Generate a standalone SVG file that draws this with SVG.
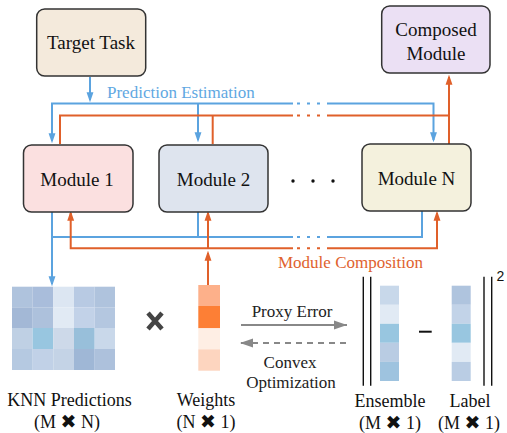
<svg xmlns="http://www.w3.org/2000/svg" width="507" height="433" viewBox="0 0 507 433">
<defs>
<style>
.box{stroke:#333;stroke-width:1.5}
.t{font-family:"Liberation Serif","Times New Roman",serif;font-size:18px;fill:#111;text-anchor:middle}
.tb{font-size:19px}
.s{font-family:"Liberation Serif","Times New Roman",serif;font-size:17px}
.x{font-family:"DejaVu Sans",sans-serif;font-size:19px}
.bl{stroke:#5BA3DF;stroke-width:2;fill:none}
.or{stroke:#E0602A;stroke-width:2;fill:none}
.bd{stroke:#5BA3DF;stroke-width:2;stroke-dasharray:3 7;fill:none}
.od{stroke:#E0602A;stroke-width:2;stroke-dasharray:3 7;fill:none}
.gr{stroke:#888;stroke-width:2;fill:none}
.bar{stroke:#111;stroke-width:1.4}
</style>
<marker id="ab" markerUnits="userSpaceOnUse" markerWidth="10" markerHeight="13" refX="10" refY="4.5" orient="auto" viewBox="0 0 13 9"><path d="M0,0 L13,4.5 L0,9 z" fill="#5BA3DF"/></marker>
<marker id="ao" markerUnits="userSpaceOnUse" markerWidth="10" markerHeight="13" refX="10" refY="4.5" orient="auto" viewBox="0 0 13 9"><path d="M0,0 L13,4.5 L0,9 z" fill="#E0602A"/></marker>
<marker id="ag" markerUnits="userSpaceOnUse" markerWidth="13" markerHeight="10" refX="13" refY="4.5" orient="auto" viewBox="0 0 13 9"><path d="M0,0 L13,4.5 L0,9 z" fill="#888"/></marker>
</defs>

<g id="connectors">
<path class="bl" d="M90,77 V100" marker-end="url(#ab)"/>
<path class="bl" d="M52,140 V103.5 H293"/>
<path class="bd" d="M297,103.5 H320"/>
<path class="bl" d="M327,103.5 H433.5 V140" marker-end="url(#ab)"/>
<path class="bl" d="M198,103.5 V140" marker-end="url(#ab)"/>
<path class="bl" d="M52,140 V141" marker-end="url(#ab)"/>
<path class="or" d="M60,144 V115.5 H293"/>
<path class="od" d="M297,115.5 H320"/>
<path class="or" d="M327,115.5 H449"/>
<path class="or" d="M212.7,115.5 V144"/>
<path class="or" d="M449,144 V77" marker-end="url(#ao)"/>

<path class="bl" d="M52,212 V284" marker-end="url(#ab)"/>
<path class="bl" d="M52,237 H293"/>
<path class="bd" d="M297,237 H320"/>
<path class="bl" d="M327,237 H422 V211"/>
<path class="bl" d="M198,212 V237"/>
<path class="or" d="M208,248.3 H70.7 V213" marker-end="url(#ao)"/>
<path class="or" d="M208,248.3 V213" marker-end="url(#ao)"/>
<path class="or" d="M208,248.3 H293"/>
<path class="od" d="M297,248.3 H320"/>
<path class="or" d="M327,248.3 H437 V213" marker-end="url(#ao)"/>
<path class="or" d="M208,285 V253" marker-end="url(#ao)"/>

<path class="gr" d="M241,325 H347" marker-end="url(#ag)"/>
<path class="gr" d="M346,343 H240" stroke-dasharray="6 5" marker-end="url(#ag)"/>
</g>

<text class="s" x="107" y="97.5" fill="#5FA8E2">Prediction Estimation</text>
<text class="s" x="278" y="268" fill="#E0622E">Module Composition</text>
<text class="s" x="292" y="316.5" text-anchor="middle" fill="#222">Proxy Error</text>
<text class="s" x="290" y="368" text-anchor="middle" fill="#222">Convex</text>
<text class="s" x="291" y="388" text-anchor="middle" fill="#222">Optimization</text>

<g id="target-task">
<rect class="box" x="36.7" y="9" width="109" height="67" rx="8" fill="#F4EADC"/>
<text class="t tb" x="91" y="49">Target Task</text>
</g>
<g id="composed-module">
<rect class="box" x="381.7" y="6" width="108.3" height="67" rx="8" fill="#EBE0F4"/>
<text class="t tb" x="436" y="35.5">Composed</text>
<text class="t tb" x="436" y="59.5">Module</text>
</g>
<g id="module-1">
<rect class="box" x="23.5" y="145" width="109.5" height="67" rx="8" fill="#FBE0E0"/>
<text class="t tb" x="77" y="185.5">Module 1</text>
</g>
<g id="module-2">
<rect class="box" x="159" y="145" width="109" height="67" rx="8" fill="#DEE4EE"/>
<text class="t tb" x="213.5" y="185.5">Module 2</text>
</g>
<g id="module-n">
<rect class="box" x="362" y="144" width="109" height="67" rx="8" fill="#F4F1DD"/>
<text class="t tb" x="416.5" y="184.5">Module N</text>
</g>
<g id="ellipsis" fill="#111">
<circle cx="293" cy="181" r="1.7"/>
<circle cx="313" cy="181" r="1.7"/>
<circle cx="333" cy="181" r="1.7"/>
</g>

<g id="knn-predictions">
<rect x="12" y="286.7" width="20.7" height="20.6" fill="#AFC3DD"/>
<rect x="32.7" y="286.7" width="20.6" height="20.6" fill="#A9BDDB"/>
<rect x="53.3" y="286.7" width="20.7" height="20.6" fill="#DCE6F2"/>
<rect x="74" y="286.7" width="20.7" height="20.6" fill="#B8CAE3"/>
<rect x="94.7" y="286.7" width="20.3" height="20.6" fill="#AFC3DD"/>
<rect x="12" y="307.3" width="20.7" height="20.7" fill="#A3B8D6"/>
<rect x="32.7" y="307.3" width="20.6" height="20.7" fill="#ADC1DC"/>
<rect x="53.3" y="307.3" width="20.7" height="20.7" fill="#E1EAF4"/>
<rect x="74" y="307.3" width="20.7" height="20.7" fill="#C2D2E8"/>
<rect x="94.7" y="307.3" width="20.3" height="20.7" fill="#B4C7E0"/>
<rect x="12" y="328" width="20.7" height="21" fill="#BFD0E4"/>
<rect x="32.7" y="328" width="20.6" height="21" fill="#98C6E0"/>
<rect x="53.3" y="328" width="20.7" height="21" fill="#CDD9E9"/>
<rect x="74" y="328" width="20.7" height="21" fill="#98BFDA"/>
<rect x="94.7" y="328" width="20.3" height="21" fill="#C9D8EA"/>
<rect x="12" y="349" width="20.7" height="21" fill="#B5C9E1"/>
<rect x="32.7" y="349" width="20.6" height="21" fill="#C1D1E7"/>
<rect x="53.3" y="349" width="20.7" height="21" fill="#C4D3E6"/>
<rect x="74" y="349" width="20.7" height="21" fill="#9FB7D6"/>
<rect x="94.7" y="349" width="20.3" height="21" fill="#ADC1DC"/>
<text class="t" x="69.5" y="406">KNN Predictions</text>
<text class="t" x="67" y="428">(M <tspan class="x">✖</tspan> N)</text>
</g>

<g id="times">
<path d="M148,313 L162,329 M162,313 L148,329" stroke="#444" stroke-width="4.5" stroke-linecap="butt"/>
</g>

<g id="weights">
<rect x="198.3" y="285" width="21.7" height="21" fill="#FDB08A"/>
<rect x="198.3" y="306" width="21.7" height="22.3" fill="#FD7F35"/>
<rect x="198.3" y="328.3" width="21.7" height="21" fill="#FEEEE4"/>
<rect x="198.3" y="349.3" width="21.7" height="21.4" fill="#FDD5BF"/>
<text class="t" x="206" y="406">Weights</text>
<text class="t" x="206" y="428">(N <tspan class="x">✖</tspan> 1)</text>
</g>

<g id="ensemble">
<line class="bar" x1="363.3" y1="276.7" x2="363.3" y2="385.7"/>
<line class="bar" x1="370.7" y1="276.7" x2="370.7" y2="385.7"/>
<rect x="380" y="285.7" width="19" height="19.1" fill="#C8D8EA"/>
<rect x="380" y="304.8" width="19" height="19" fill="#E1EAF4"/>
<rect x="380" y="323.8" width="19" height="19" fill="#98C6E0"/>
<rect x="380" y="342.8" width="19" height="19.1" fill="#B9CCE3"/>
<rect x="380" y="361.9" width="19" height="19.1" fill="#9EC3DF"/>
<text class="t" x="390" y="407">Ensemble</text>
<text class="t" x="390" y="429">(M <tspan class="x">✖</tspan> 1)</text>
</g>

<line x1="419" y1="331.7" x2="431.7" y2="331.7" stroke="#111" stroke-width="2"/>

<g id="label">
<rect x="451.7" y="285.7" width="19" height="19.1" fill="#AFC4DE"/>
<rect x="451.7" y="304.8" width="19" height="19" fill="#C2D3E8"/>
<rect x="451.7" y="323.8" width="19" height="19" fill="#98C6E0"/>
<rect x="451.7" y="342.8" width="19" height="19.1" fill="#E1EAF4"/>
<rect x="451.7" y="361.9" width="19" height="19.1" fill="#BACDE4"/>
<line class="bar" x1="484" y1="276.7" x2="484" y2="385.7"/>
<line class="bar" x1="491.7" y1="276.7" x2="491.7" y2="385.7"/>
<text x="496.5" y="281" font-family="Liberation Sans, Arial, sans-serif" font-size="14" fill="#111">2</text>
<text class="t" x="470" y="407">Label</text>
<text class="t" x="469" y="429">(M <tspan class="x">✖</tspan> 1)</text>
</g>
</svg>
